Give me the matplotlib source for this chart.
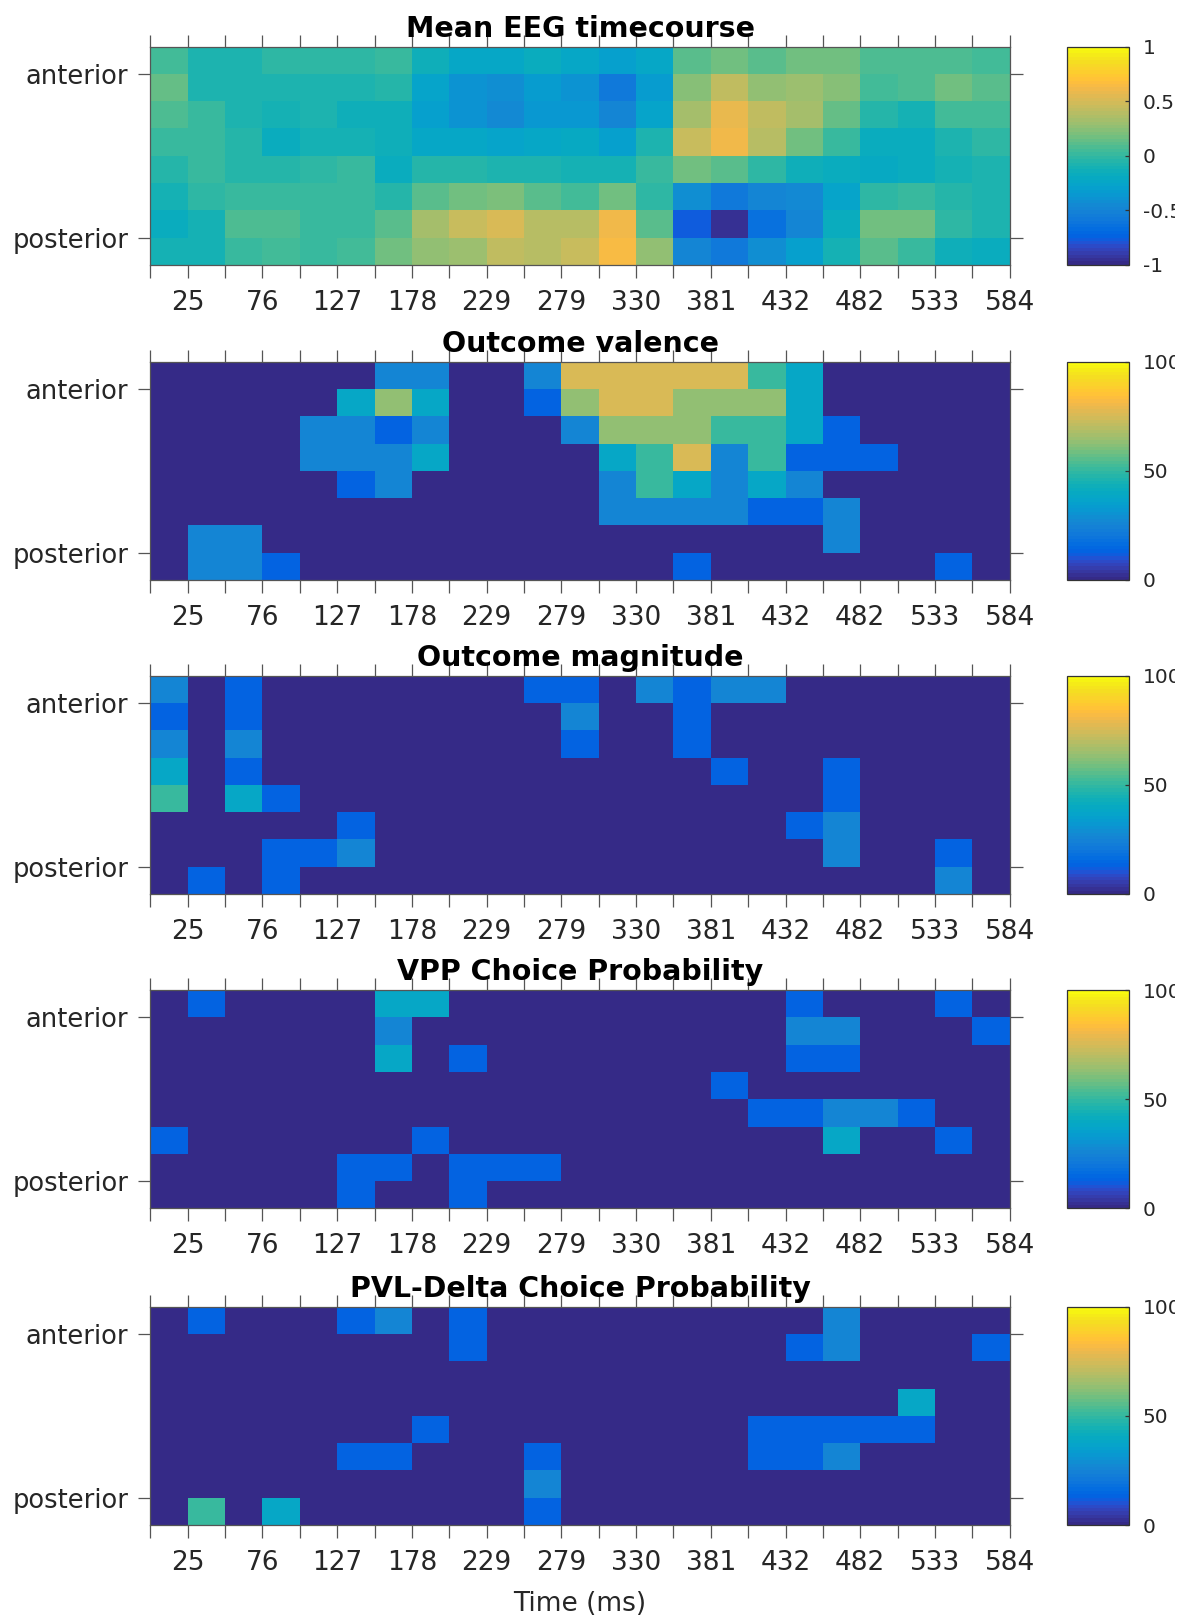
import numpy as np
import matplotlib
matplotlib.use("Agg")
import matplotlib.pyplot as plt
from matplotlib.colors import ListedColormap
from matplotlib.transforms import Bbox

# MATLAB "parula" colormap, 64 entries
PARULA = [
    [0.2081, 0.1663, 0.5292], [0.2116, 0.1898, 0.5777], [0.2123, 0.2138, 0.6270],
    [0.2081, 0.2386, 0.6771], [0.1959, 0.2645, 0.7279], [0.1707, 0.2919, 0.7792],
    [0.1253, 0.3242, 0.8303], [0.0591, 0.3598, 0.8683], [0.0117, 0.3875, 0.8820],
    [0.0060, 0.4086, 0.8828], [0.0165, 0.4266, 0.8786], [0.0329, 0.4430, 0.8720],
    [0.0498, 0.4586, 0.8641], [0.0629, 0.4737, 0.8554], [0.0723, 0.4887, 0.8467],
    [0.0779, 0.5040, 0.8384], [0.0793, 0.5200, 0.8312], [0.0749, 0.5375, 0.8263],
    [0.0641, 0.5570, 0.8240], [0.0488, 0.5772, 0.8228], [0.0343, 0.5966, 0.8199],
    [0.0265, 0.6137, 0.8135], [0.0239, 0.6287, 0.8038], [0.0231, 0.6418, 0.7913],
    [0.0228, 0.6535, 0.7768], [0.0267, 0.6642, 0.7607], [0.0384, 0.6743, 0.7436],
    [0.0590, 0.6838, 0.7254], [0.0843, 0.6928, 0.7062], [0.1133, 0.7015, 0.6859],
    [0.1453, 0.7098, 0.6646], [0.1801, 0.7177, 0.6424], [0.2178, 0.7250, 0.6193],
    [0.2586, 0.7317, 0.5954], [0.3022, 0.7376, 0.5712], [0.3482, 0.7424, 0.5473],
    [0.3953, 0.7459, 0.5244], [0.4420, 0.7481, 0.5033], [0.4871, 0.7491, 0.4840],
    [0.5300, 0.7491, 0.4661], [0.5709, 0.7485, 0.4494], [0.6099, 0.7473, 0.4337],
    [0.6473, 0.7456, 0.4188], [0.6834, 0.7435, 0.4044], [0.7184, 0.7411, 0.3905],
    [0.7525, 0.7384, 0.3768], [0.7858, 0.7356, 0.3633], [0.8185, 0.7327, 0.3498],
    [0.8507, 0.7299, 0.3360], [0.8824, 0.7274, 0.3217], [0.9139, 0.7258, 0.3063],
    [0.9450, 0.7261, 0.2886], [0.9739, 0.7314, 0.2666], [0.9938, 0.7455, 0.2403],
    [0.9990, 0.7653, 0.2164], [0.9955, 0.7861, 0.1967], [0.9880, 0.8066, 0.1794],
    [0.9789, 0.8271, 0.1633], [0.9697, 0.8481, 0.1475], [0.9626, 0.8705, 0.1309],
    [0.9589, 0.8949, 0.1132], [0.9598, 0.9218, 0.0948], [0.9661, 0.9514, 0.0755],
    [0.9763, 0.9831, 0.0538],
]
parula = ListedColormap(PARULA, name="parula")

# Axis annotations
time_labels = ["25", "76", "127", "178", "229", "279", "330", "381", "432", "482", "533", "584"]
region_labels = ["anterior", "posterior"]
panel_titles = ["Mean EEG timecourse", "Outcome valence", "Outcome magnitude",
                "VPP Choice Probability", "PVL-Delta Choice Probability"]

# Mean EEG amplitude (normalised), rows anterior -> posterior, columns = time bins
eeg_mean = [
    [0.05, -0.08, -0.08, -0.03, -0.03, -0.03, 0.00, -0.15, -0.22, -0.22, -0.18, -0.22, -0.30, -0.22, 0.12, 0.18, 0.12, 0.18, 0.18, 0.08, 0.08, 0.08, 0.05],
    [0.15, -0.08, -0.08, -0.08, -0.08, -0.08, -0.05, -0.27, -0.38, -0.42, -0.32, -0.40, -0.58, -0.32, 0.22, 0.42, 0.28, 0.30, 0.22, 0.05, 0.08, 0.17, 0.10],
    [0.08, 0.02, -0.07, -0.10, -0.07, -0.15, -0.15, -0.30, -0.38, -0.45, -0.35, -0.35, -0.50, -0.28, 0.33, 0.58, 0.42, 0.32, 0.15, -0.05, -0.10, 0.05, 0.05],
    [0.03, 0.03, -0.05, -0.17, -0.10, -0.12, -0.15, -0.24, -0.24, -0.28, -0.25, -0.20, -0.30, -0.08, 0.45, 0.62, 0.38, 0.18, 0.02, -0.18, -0.18, -0.07, -0.03],
    [-0.05, 0.02, -0.06, -0.06, -0.02, 0.02, -0.16, -0.05, -0.05, -0.08, -0.08, -0.12, -0.10, 0.02, 0.18, 0.12, -0.03, -0.15, -0.17, -0.20, -0.16, -0.12, -0.08],
    [-0.12, -0.02, 0.02, 0.02, 0.02, 0.02, -0.06, 0.12, 0.18, 0.21, 0.12, 0.05, 0.18, -0.02, -0.42, -0.58, -0.50, -0.45, -0.27, -0.03, 0.03, -0.06, -0.08],
    [-0.17, -0.10, 0.08, 0.08, 0.02, 0.02, 0.12, 0.33, 0.45, 0.52, 0.40, 0.40, 0.62, 0.12, -0.76, -0.94, -0.65, -0.48, -0.17, 0.18, 0.18, -0.02, -0.08],
    [-0.10, -0.10, 0.00, 0.05, 0.00, 0.05, 0.18, 0.25, 0.30, 0.42, 0.38, 0.46, 0.65, 0.25, -0.47, -0.58, -0.42, -0.30, -0.10, 0.12, 0.02, -0.13, -0.18],
]

# Percentage of significant fits per electrode row / time bin
outcome_valence = [
    [0, 0, 0, 0, 0, 0, 25, 25, 0, 0, 25, 75, 75, 75, 75, 75, 50, 37.5, 0, 0, 0, 0, 0],
    [0, 0, 0, 0, 0, 37.5, 62.5, 37.5, 0, 0, 12.5, 62.5, 75, 75, 62.5, 62.5, 62.5, 37.5, 0, 0, 0, 0, 0],
    [0, 0, 0, 0, 25, 25, 12.5, 25, 0, 0, 0, 25, 62.5, 62.5, 62.5, 50, 50, 37.5, 12.5, 0, 0, 0, 0],
    [0, 0, 0, 0, 25, 25, 25, 37.5, 0, 0, 0, 0, 37.5, 50, 75, 25, 50, 12.5, 12.5, 12.5, 0, 0, 0],
    [0, 0, 0, 0, 0, 12.5, 25, 0, 0, 0, 0, 0, 25, 50, 37.5, 25, 37.5, 25, 0, 0, 0, 0, 0],
    [0, 0, 0, 0, 0, 0, 0, 0, 0, 0, 0, 0, 25, 25, 25, 25, 12.5, 12.5, 25, 0, 0, 0, 0],
    [0, 25, 25, 0, 0, 0, 0, 0, 0, 0, 0, 0, 0, 0, 0, 0, 0, 0, 25, 0, 0, 0, 0],
    [0, 25, 25, 12.5, 0, 0, 0, 0, 0, 0, 0, 0, 0, 0, 12.5, 0, 0, 0, 0, 0, 0, 12.5, 0],
]

outcome_magnitude = [
    [25, 0, 12.5, 0, 0, 0, 0, 0, 0, 0, 12.5, 12.5, 0, 25, 12.5, 25, 25, 0, 0, 0, 0, 0, 0],
    [12.5, 0, 12.5, 0, 0, 0, 0, 0, 0, 0, 0, 25, 0, 0, 12.5, 0, 0, 0, 0, 0, 0, 0, 0],
    [25, 0, 25, 0, 0, 0, 0, 0, 0, 0, 0, 12.5, 0, 0, 12.5, 0, 0, 0, 0, 0, 0, 0, 0],
    [37.5, 0, 12.5, 0, 0, 0, 0, 0, 0, 0, 0, 0, 0, 0, 0, 12.5, 0, 0, 12.5, 0, 0, 0, 0],
    [50, 0, 37.5, 12.5, 0, 0, 0, 0, 0, 0, 0, 0, 0, 0, 0, 0, 0, 0, 12.5, 0, 0, 0, 0],
    [0, 0, 0, 0, 0, 12.5, 0, 0, 0, 0, 0, 0, 0, 0, 0, 0, 0, 12.5, 25, 0, 0, 0, 0],
    [0, 0, 0, 12.5, 12.5, 25, 0, 0, 0, 0, 0, 0, 0, 0, 0, 0, 0, 0, 25, 0, 0, 12.5, 0],
    [0, 12.5, 0, 12.5, 0, 0, 0, 0, 0, 0, 0, 0, 0, 0, 0, 0, 0, 0, 0, 0, 0, 25, 0],
]

vpp_choice = [
    [0, 12.5, 0, 0, 0, 0, 37.5, 37.5, 0, 0, 0, 0, 0, 0, 0, 0, 0, 12.5, 0, 0, 0, 12.5, 0],
    [0, 0, 0, 0, 0, 0, 25, 0, 0, 0, 0, 0, 0, 0, 0, 0, 0, 25, 25, 0, 0, 0, 12.5],
    [0, 0, 0, 0, 0, 0, 37.5, 0, 12.5, 0, 0, 0, 0, 0, 0, 0, 0, 12.5, 12.5, 0, 0, 0, 0],
    [0, 0, 0, 0, 0, 0, 0, 0, 0, 0, 0, 0, 0, 0, 0, 12.5, 0, 0, 0, 0, 0, 0, 0],
    [0, 0, 0, 0, 0, 0, 0, 0, 0, 0, 0, 0, 0, 0, 0, 0, 12.5, 12.5, 25, 25, 12.5, 0, 0],
    [12.5, 0, 0, 0, 0, 0, 0, 12.5, 0, 0, 0, 0, 0, 0, 0, 0, 0, 0, 37.5, 0, 0, 12.5, 0],
    [0, 0, 0, 0, 0, 12.5, 12.5, 0, 12.5, 12.5, 12.5, 0, 0, 0, 0, 0, 0, 0, 0, 0, 0, 0, 0],
    [0, 0, 0, 0, 0, 12.5, 0, 0, 12.5, 0, 0, 0, 0, 0, 0, 0, 0, 0, 0, 0, 0, 0, 0],
]

pvl_delta_choice = [
    [0, 12.5, 0, 0, 0, 12.5, 25, 0, 12.5, 0, 0, 0, 0, 0, 0, 0, 0, 0, 25, 0, 0, 0, 0],
    [0, 0, 0, 0, 0, 0, 0, 0, 12.5, 0, 0, 0, 0, 0, 0, 0, 0, 12.5, 25, 0, 0, 0, 12.5],
    [0, 0, 0, 0, 0, 0, 0, 0, 0, 0, 0, 0, 0, 0, 0, 0, 0, 0, 0, 0, 0, 0, 0],
    [0, 0, 0, 0, 0, 0, 0, 0, 0, 0, 0, 0, 0, 0, 0, 0, 0, 0, 0, 0, 37.5, 0, 0],
    [0, 0, 0, 0, 0, 0, 0, 12.5, 0, 0, 0, 0, 0, 0, 0, 0, 12.5, 12.5, 12.5, 12.5, 12.5, 0, 0],
    [0, 0, 0, 0, 0, 12.5, 12.5, 0, 0, 0, 12.5, 0, 0, 0, 0, 0, 12.5, 12.5, 25, 0, 0, 0, 0],
    [0, 0, 0, 0, 0, 0, 0, 0, 0, 0, 25, 0, 0, 0, 0, 0, 0, 0, 0, 0, 0, 0, 0],
    [0, 50, 0, 37.5, 0, 0, 0, 0, 0, 0, 12.5, 0, 0, 0, 0, 0, 0, 0, 0, 0, 0, 0, 0],
]

panels = [eeg_mean, outcome_valence, outcome_magnitude, vpp_choice, pvl_delta_choice]
limits = [(-1, 1), (0, 100), (0, 100), (0, 100), (0, 100)]
cbar_ticks = [[-1, -0.5, 0, 0.5, 1], [0, 50, 100], [0, 50, 100], [0, 50, 100], [0, 50, 100]]

plt.rcParams["font.family"] = ["DejaVu Sans"]
AXC = "#555555"
TXT = "#262626"

W, H, DPI = 11.9, 16.16, 100
fig = plt.figure(figsize=(W, H), dpi=DPI)
bottoms = [0.8361, 0.6411, 0.4468, 0.2522, 0.0563]
ax_left, ax_w, ax_h = 0.1264, 0.7221, 0.1351
cb_left, cb_w = 0.8966, 0.0521

cbar_axes = []
for i, data in enumerate(panels):
    arr = np.asarray(data, dtype=float)
    n_rows, n_cols = arr.shape
    ax = fig.add_axes([ax_left, bottoms[i], ax_w, ax_h])
    vmin, vmax = limits[i]
    mesh = ax.pcolormesh(np.arange(n_cols + 1), np.arange(n_rows + 1), arr,
                         cmap=parula, vmin=vmin, vmax=vmax, shading="flat",
                         antialiased=False)
    ax.set_xlim(0, n_cols)
    ax.set_ylim(n_rows, 0)

    xt = np.arange(n_cols + 1)
    ax.set_xticks(xt)
    labels = []
    k = 0
    for t in xt:
        if t % 2 == 1:
            labels.append(time_labels[k])
            k += 1
        else:
            labels.append("")
    ax.set_xticklabels(labels)
    ax.set_yticks([1, n_rows - 1])
    ax.set_yticklabels(region_labels)

    ax.tick_params(axis="both", direction="out", top=True, right=True,
                   length=9, width=0.9, color=AXC, labelsize=19,
                   labelcolor=TXT)
    ax.tick_params(axis="x", pad=9)
    ax.tick_params(axis="y", pad=7, labelsize=18.5)
    for sp in ax.spines.values():
        sp.set_color(AXC)
        sp.set_linewidth(0.9)

    ax.set_title(panel_titles[i], fontsize=20.5, fontweight="bold",
                 color="black", pad=7)

    cax = fig.add_axes([cb_left, bottoms[i], cb_w, ax_h])
    cb = fig.colorbar(mesh, cax=cax, ticks=cbar_ticks[i])
    cb.outline.set_edgecolor("#333333")
    cb.outline.set_linewidth(0.9)
    cax.tick_params(direction="in", length=3, width=0.9, color="#333333",
                    labelsize=14.5, labelcolor=TXT, pad=10)
    if i == 0:
        cb.set_ticklabels(["-1", "-0.5", "0", "0.5", "1"])
    cbar_axes.append(cax)

    if i == len(panels) - 1:
        ax.set_xlabel("Time (ms)", fontsize=19, color=TXT, labelpad=11)

# Colorbar labels run into the right margin and are cut there
fig.canvas.draw()
cut = Bbox.from_extents(0, 0, 1175, H * DPI)
for cax in cbar_axes:
    for lbl in cax.get_yticklabels():
        lbl.set_clip_box(cut)
        lbl.set_clip_on(True)

fig.savefig("out.png", dpi=DPI, facecolor="white")
